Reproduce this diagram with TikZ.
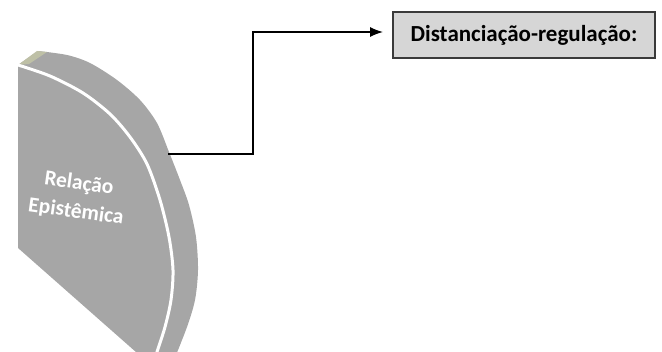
\documentclass[tikz,border=0pt]{standalone}
\usepackage{fontspec}
\setmainfont{Carlito}
\usetikzlibrary{arrows.meta}
\definecolor{shapegray}{RGB}{166,166,166}
\definecolor{topolive}{RGB}{190,192,166}
\definecolor{boxfill}{RGB}{214,214,214}
\definecolor{boxline}{RGB}{58,58,58}
\tikzset{
  conn/.style={line width=1.3pt, -{Latex[length=13pt,width=10pt]}},
  labelbox/.style={draw=boxline, line width=1.5pt, fill=boxfill, minimum width=262pt, minimum height=46pt, inner sep=0pt, font=\fontsize{23}{26}\selectfont\bfseries},
  shapetext/.style={text=white, inner sep=0pt, font=\fontsize{21.5}{24}\selectfont\bfseries, rotate=-8}
}
\begin{document}
\begin{tikzpicture}[x=1pt,y=-1pt]
\useasboundingbox (0,0) rectangle (662,352);
\begin{scope}
\clip (0,0) rectangle (662,352);
% whole disc piece
\fill[shapegray] plot[smooth] coordinates {(38,51) (67,55) (90,63) (117,80) (140,100) (157,123) (169,152) (180,180) (189,205) (196,237) (198,270) (195,300) (187,327) (174,360)}
  -- (145,360) -- (18,248) -- (18,65) -- cycle;
% olive top face
\fill[topolive] (18,65) -- (37,51) -- (47,52) -- (29,64) -- cycle;
% white separating line
\draw[white, line width=3pt] plot[smooth] coordinates {(18,65) (50,76) (83,93) (110,114) (130,137) (147,164) (160,200) (169,237) (173,270) (171,300) (165,327) (157,352) (154,362)};
\end{scope}
\node[shapetext] (rel1) at (79,184) {Relação};
\node[shapetext] (rel2) at (76,212) {Epistêmica};
\coordinate (src) at (168,154);
\node[labelbox] (box) at (524,35) {Distanciação-regulação:};
\coordinate (tip) at (383,32);
\draw[conn] (src) -- ++(85,0) |- (tip);
\end{tikzpicture}
\end{document}
